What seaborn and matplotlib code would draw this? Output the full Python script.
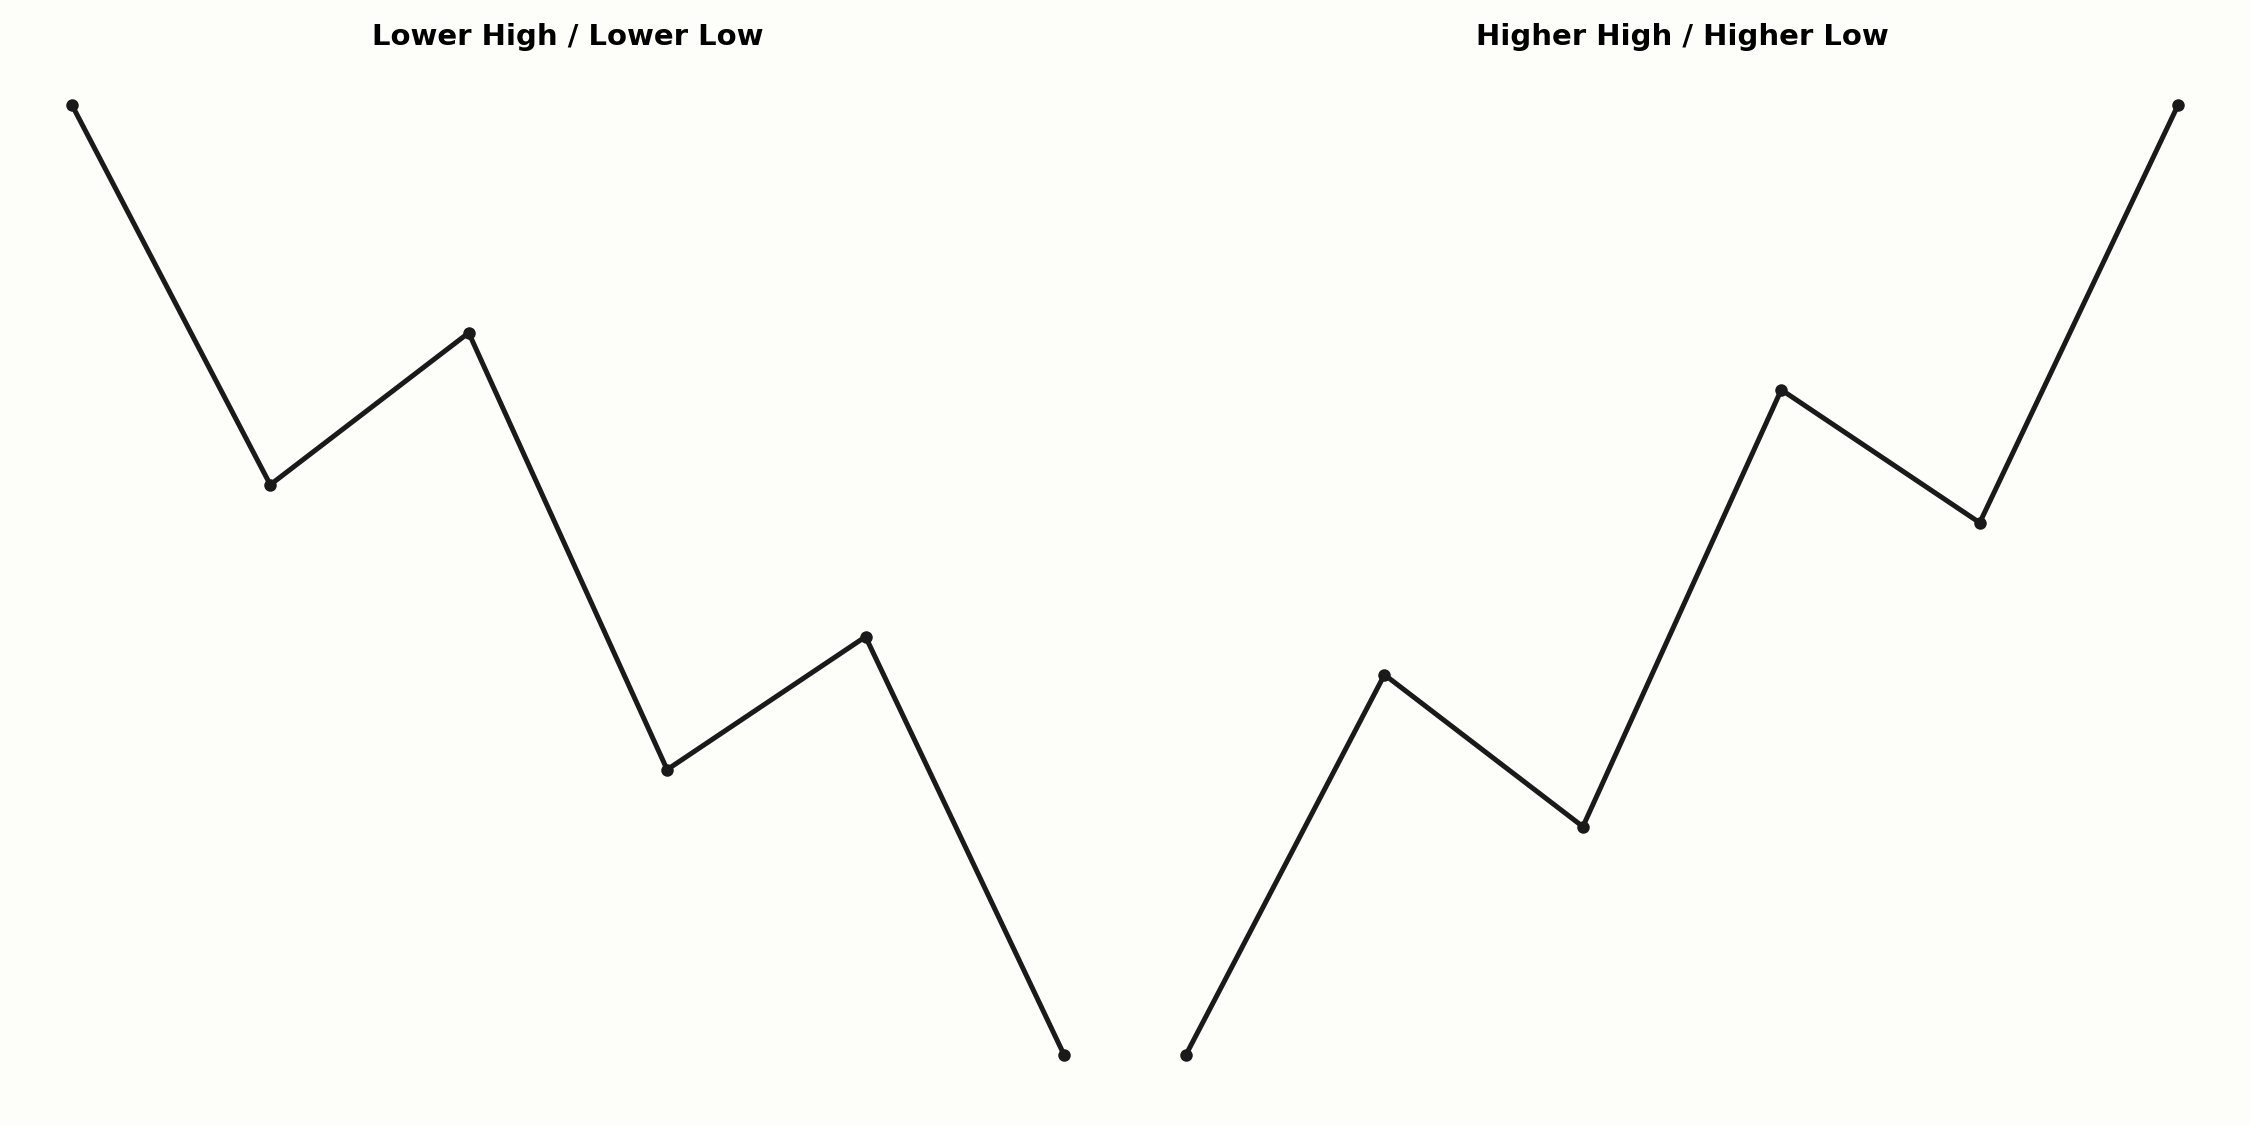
import matplotlib
matplotlib.use("Agg")
import matplotlib.pyplot as plt
import seaborn as sns
import pandas as pd


# Swing points (relative price level)
steps = [0, 1, 2, 3, 4, 5]
lower_values = [100, 60, 76, 30, 44, 0]
higher_values = [0, 40, 24, 70, 56, 100]
titles = ["Lower High / Lower Low", "Higher High / Higher Low"]

BG = "#fdfdf9"
INK = "#1a1a1a"

sns.set_theme(style="white")
plt.rcParams["font.family"] = ["DejaVu Sans"]

fig, axes = plt.subplots(1, 2, figsize=(15, 7.5), dpi=150)
fig.patch.set_facecolor(BG)

for ax, vals, title in zip(axes, [lower_values, higher_values], titles):
    df = pd.DataFrame({"step": steps, "price": vals})
    sns.lineplot(
        data=df, x="step", y="price", ax=ax,
        color=INK, linewidth=2.4,
        marker="o", markersize=6, markeredgewidth=0,
    )
    ax.set_facecolor(BG)
    ax.set_title(title, fontsize=14, fontweight="bold", color="black", pad=6)
    ax.axis("off")

plt.subplots_adjust(left=0.0099, right=0.9901, top=0.949, bottom=0.0204, wspace=0.021)

plt.savefig("out.png", facecolor=BG)
